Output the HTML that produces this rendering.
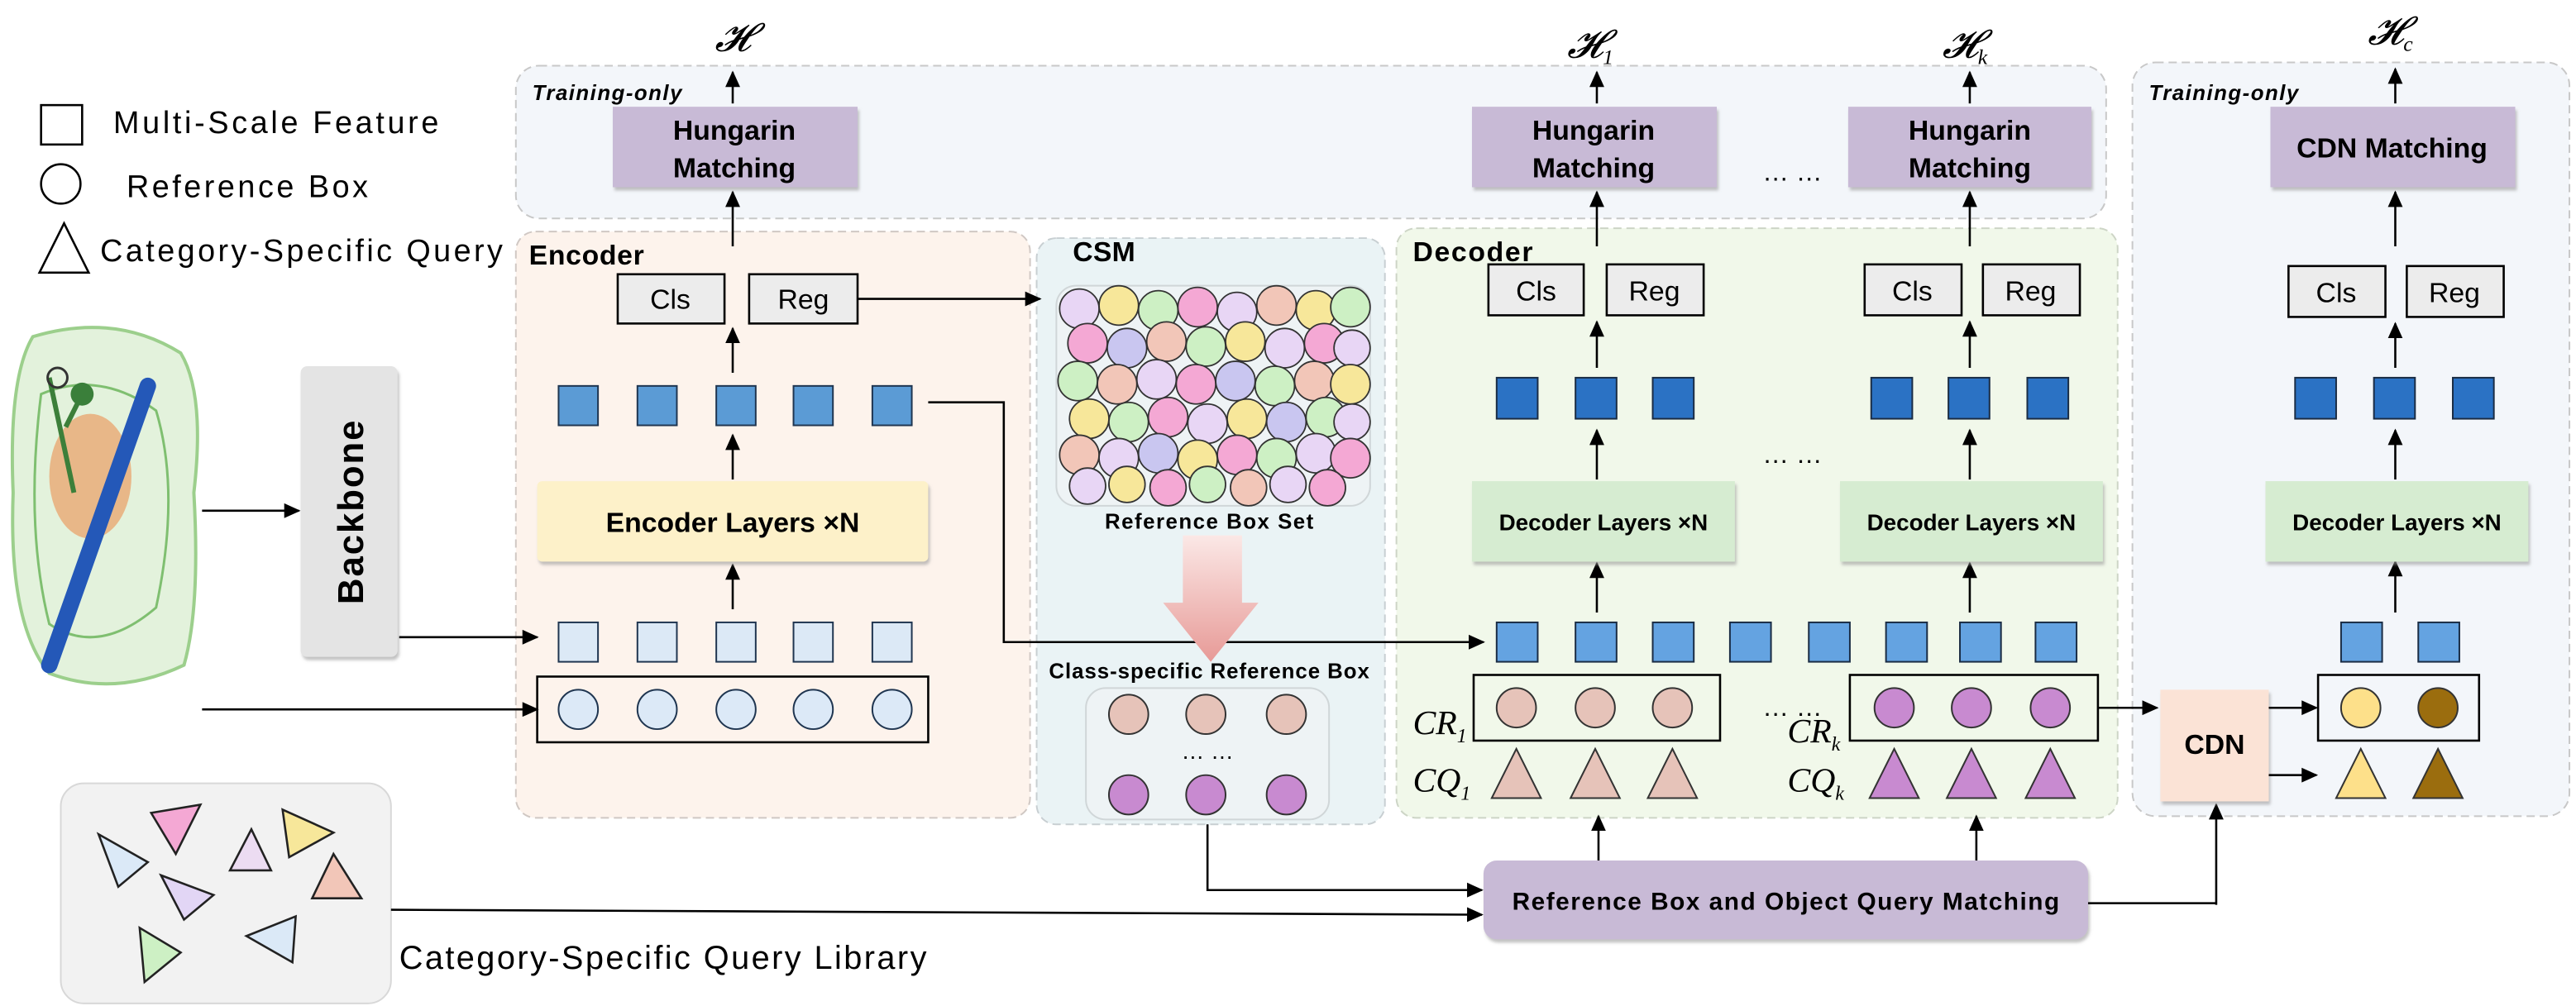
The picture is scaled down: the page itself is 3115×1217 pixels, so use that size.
<!DOCTYPE html>
<html><head><meta charset="utf-8"><style>
html,body{margin:0;padding:0;background:#fff;}
svg{display:block;}
text{font-family:"Liberation Sans",sans-serif;}
text.serif,.serif text{font-family:"Liberation Serif",serif;}
.b{font-weight:bold;}
</style></head><body>
<svg width="3115" height="1217" viewBox="0 0 1568 612.6" preserveAspectRatio="none" xmlns="http://www.w3.org/2000/svg">
<defs>
<marker id="ah" markerWidth="10" markerHeight="10" refX="9" refY="5" orient="auto" markerUnits="userSpaceOnUse"><path d="M0,0.5 L10,5 L0,9.5 z" fill="#000"/></marker>
<linearGradient id="pg" x1="0" y1="0" x2="0" y2="1"><stop offset="0" stop-color="#fbe8e6"/><stop offset="1" stop-color="#e79a97"/></linearGradient>
<filter id="sh" x="-10%" y="-10%" width="130%" height="140%"><feDropShadow dx="1" dy="2" stdDeviation="1" flood-color="#999" flood-opacity="0.6"/></filter>
</defs>

<rect x="314" y="40" width="968" height="93" rx="14" fill="#f3f6fa" stroke="#c8c8c8" stroke-dasharray="5,3"/>
<rect x="1298" y="38" width="266" height="459" rx="14" fill="#f3f6fa" stroke="#c8c8c8" stroke-dasharray="5,3"/>
<rect x="314" y="141" width="313" height="357" rx="12" fill="#fdf3ec" stroke="#d0c8c4" stroke-dasharray="5,3"/>
<rect x="631" y="145" width="212" height="357" rx="12" fill="#eaf3f5" stroke="#c8cfd2" stroke-dasharray="5,3"/>
<rect x="850" y="139" width="439" height="359" rx="12" fill="#f1f8ea" stroke="#cdd5c6" stroke-dasharray="5,3"/>
<text x="324" y="61" font-size="13" font-style="italic" class="b" textLength="91">Training-only</text>
<text x="1308" y="61" font-size="13" font-style="italic" class="b" textLength="91">Training-only</text>
<text x="322" y="161" font-size="17" class="b" textLength="70">Encoder</text>
<text x="653" y="159" font-size="17" class="b" textLength="38">CSM</text>
<text x="860" y="159" font-size="17" class="b" textLength="73">Decoder</text>

<rect x="25" y="64" width="25" height="24" fill="#fff" stroke="#000" stroke-width="1.3"/>
<text x="69" y="81" font-size="19" textLength="198">Multi-Scale Feature</text>
<circle cx="37" cy="112" r="12" fill="#fff" stroke="#000" stroke-width="1.3"/>
<text x="77" y="120" font-size="19" textLength="147">Reference Box</text>
<path d="M24,166 L39,136 L54,166 z" fill="#fff" stroke="#000" stroke-width="1.3"/>
<text x="61" y="159" font-size="19" textLength="245">Category-Specific Query</text>

<path d="M20,205 Q70,190 110,215 Q125,240 118,300 Q122,370 112,405 Q70,425 30,410 Q5,380 8,300 Q5,230 20,205 z" fill="#e3f2dc" stroke="#9ccf8c" stroke-width="2"/>
<path d="M25,240 Q60,225 95,250 Q110,300 95,370 Q60,400 30,380 Q15,320 25,240 z" fill="none" stroke="#7fbf70" stroke-width="1.5"/>
<ellipse cx="55" cy="290" rx="25" ry="38" fill="#e8a873" opacity="0.8"/>
<path d="M30,230 L45,300 M50,240 L40,260" stroke="#3c7f3a" stroke-width="3"/>
<line x1="90" y1="235" x2="30" y2="405" stroke="#2458b8" stroke-width="10" stroke-linecap="round"/>
<circle cx="35" cy="230" r="6" fill="none" stroke="#333" stroke-width="1.5"/>
<circle cx="50" cy="240" r="7" fill="#3a7f3a"/>

<rect x="183" y="223" width="59" height="177" rx="4" fill="#e4e4e4" filter="url(#sh)"/>
<text x="0" y="0" font-size="22" class="b" text-anchor="middle" transform="translate(221,312) rotate(-90)" textLength="112">Backbone</text>
<line x1="123" y1="311" x2="182" y2="311" stroke="#000" stroke-width="1.3" marker-end="url(#ah)"/>
<line x1="243" y1="388" x2="327" y2="388" stroke="#000" stroke-width="1.3" marker-end="url(#ah)"/>
<line x1="123" y1="432" x2="327" y2="432" stroke="#000" stroke-width="1.3" marker-end="url(#ah)"/>

<rect x="37" y="477" width="201" height="134" rx="14" fill="#f2f2f2" stroke="#d8d8d8"/>
<g stroke="#222" stroke-width="1.3">
<path d="M60,508 L90,525 L72,540 z" fill="#dbe9f7"/>
<path d="M92,495 L122,490 L107,520 z" fill="#f4a8d4"/>
<path d="M153,505 L165,530 L140,530 z" fill="#ecdcf2"/>
<path d="M172,493 L203,507 L176,522 z" fill="#f7e79a"/>
<path d="M203,520 L220,547 L190,547 z" fill="#f2c6b8"/>
<path d="M98,533 L130,545 L112,560 z" fill="#e2d6f5"/>
<path d="M150,570 L180,558 L178,586 z" fill="#dbe9f7"/>
<path d="M85,565 L110,580 L88,598 z" fill="#cdf0c4"/>
</g>
<text x="243" y="590" font-size="20" textLength="321">Category-Specific Query Library</text>
<line x1="238" y1="554" x2="902" y2="557" stroke="#000" stroke-width="1.3" marker-end="url(#ah)"/>

<g filter="url(#sh)">
<rect x="373" y="65" width="149" height="49" fill="#c8bad6"/>
<rect x="896" y="65" width="149" height="49" fill="#c8bad6"/>
<rect x="1125" y="65" width="148" height="49" fill="#c8bad6"/>
<rect x="1382" y="65" width="149" height="49" fill="#c8bad6"/>
</g>
<g font-size="17" class="b" text-anchor="middle">
<text x="447" y="85">Hungarin</text><text x="447" y="108">Matching</text>
<text x="970" y="85">Hungarin</text><text x="970" y="108">Matching</text>
<text x="1199" y="85">Hungarin</text><text x="1199" y="108">Matching</text>
<text x="1456" y="96">CDN Matching</text>
</g>
<text x="1091" y="110" font-size="16" text-anchor="middle">… …</text>

<g class="serif" font-style="italic" font-size="24" text-anchor="middle">
<text x="446" y="31">𝓗</text>
<text x="968" y="35">𝓗<tspan font-size="13" dy="4">1</tspan></text>
<text x="1196" y="35">𝓗<tspan font-size="13" dy="4">k</tspan></text>
<text x="1455" y="27">𝓗<tspan font-size="13" dy="4">c</tspan></text>
</g>

<g stroke="#000" stroke-width="1.3" marker-end="url(#ah)">
<line x1="446" y1="63" x2="446" y2="44"/>
<line x1="972" y1="63" x2="972" y2="44"/>
<line x1="1199" y1="63" x2="1199" y2="44"/>
<line x1="1458" y1="63" x2="1458" y2="42"/>
<line x1="446" y1="150" x2="446" y2="117"/>
<line x1="972" y1="150" x2="972" y2="117"/>
<line x1="1199" y1="150" x2="1199" y2="117"/>
<line x1="1458" y1="150" x2="1458" y2="117"/>
<line x1="446" y1="227" x2="446" y2="200"/>
<line x1="972" y1="224" x2="972" y2="196"/>
<line x1="1199" y1="224" x2="1199" y2="196"/>
<line x1="1458" y1="224" x2="1458" y2="197"/>
<line x1="446" y1="292" x2="446" y2="265"/>
<line x1="972" y1="292" x2="972" y2="262"/>
<line x1="1199" y1="292" x2="1199" y2="262"/>
<line x1="1458" y1="292" x2="1458" y2="262"/>
<line x1="446" y1="371" x2="446" y2="344"/>
<line x1="972" y1="373" x2="972" y2="343"/>
<line x1="1199" y1="373" x2="1199" y2="343"/>
<line x1="1458" y1="373" x2="1458" y2="342"/>
<line x1="973" y1="524" x2="973" y2="497"/>
<line x1="1203" y1="524" x2="1203" y2="497"/>
<line x1="1349" y1="551" x2="1349" y2="490"/>
</g>

<g fill="#ececec" stroke="#000" stroke-width="1.3">
<rect x="376" y="167" width="65" height="30"/><rect x="456" y="167" width="66" height="30"/>
<rect x="906" y="161" width="58" height="31"/><rect x="978" y="161" width="59" height="31"/>
<rect x="1135" y="161" width="59" height="31"/><rect x="1207" y="161" width="59" height="31"/>
<rect x="1393" y="162" width="59" height="31"/><rect x="1465" y="162" width="59" height="31"/>
</g>
<g font-size="17" text-anchor="middle">
<text x="408" y="188">Cls</text><text x="489" y="188">Reg</text>
<text x="935" y="183">Cls</text><text x="1007" y="183">Reg</text>
<text x="1164" y="183">Cls</text><text x="1236" y="183">Reg</text>
<text x="1422" y="184">Cls</text><text x="1494" y="184">Reg</text>
</g>
<line x1="522" y1="182" x2="633" y2="182" stroke="#000" stroke-width="1.3" marker-end="url(#ah)"/>

<g fill="#5b9bd5" stroke="#1f3550" stroke-width="1">
<rect x="340" y="235" width="24" height="24"/><rect x="388" y="235" width="24" height="24"/><rect x="436" y="235" width="24" height="24"/><rect x="483" y="235" width="24" height="24"/><rect x="531" y="235" width="24" height="24"/>
</g>
<g fill="#dce9f6" stroke="#1f3550" stroke-width="1">
<rect x="340" y="379" width="24" height="24"/><rect x="388" y="379" width="24" height="24"/><rect x="436" y="379" width="24" height="24"/><rect x="483" y="379" width="24" height="24"/><rect x="531" y="379" width="24" height="24"/>
</g>
<rect x="327" y="293" width="238" height="49" rx="3" fill="#fdf1c9" filter="url(#sh)"/>
<text x="446" y="324" font-size="17" class="b" text-anchor="middle">Encoder Layers ×N</text>
<rect x="327" y="412" width="238" height="40" fill="none" stroke="#000" stroke-width="1.3"/>
<g fill="#dce9f7" stroke="#1f3550" stroke-width="1">
<circle cx="352" cy="432" r="12"/><circle cx="400" cy="432" r="12"/><circle cx="448" cy="432" r="12"/><circle cx="495" cy="432" r="12"/><circle cx="543" cy="432" r="12"/>
</g>
<polyline points="565,245 611,245 611,391 903,391" fill="none" stroke="#000" stroke-width="1.3" marker-end="url(#ah)"/>

<rect x="643" y="174" width="191" height="134" rx="12" fill="#eef3f5" stroke="#d0d6d8"/>
<g stroke="#333" stroke-width="0.9">
<circle cx="657" cy="188" r="12" fill="#e8d6f5"/><circle cx="681" cy="186" r="12" fill="#f7e79a"/><circle cx="705" cy="189" r="12" fill="#cdf0c4"/><circle cx="729" cy="187" r="12" fill="#f4a8d4"/><circle cx="753" cy="190" r="12" fill="#e8d6f5"/><circle cx="777" cy="186" r="12" fill="#f2c6b8"/><circle cx="801" cy="189" r="12" fill="#f7e79a"/><circle cx="822" cy="187" r="12" fill="#cdf0c4"/>
<circle cx="662" cy="209" r="12" fill="#f4a8d4"/><circle cx="686" cy="212" r="12" fill="#c9c6f0"/><circle cx="710" cy="208" r="12" fill="#f2c6b8"/><circle cx="734" cy="211" r="12" fill="#cdf0c4"/><circle cx="758" cy="208" r="12" fill="#f7e79a"/><circle cx="782" cy="212" r="12" fill="#e8d6f5"/><circle cx="806" cy="209" r="12" fill="#f4a8d4"/><circle cx="823" cy="212" r="11" fill="#e8d6f5"/>
<circle cx="656" cy="232" r="12" fill="#cdf0c4"/><circle cx="680" cy="234" r="12" fill="#f2c6b8"/><circle cx="704" cy="231" r="12" fill="#e8d6f5"/><circle cx="728" cy="234" r="12" fill="#f4a8d4"/><circle cx="752" cy="232" r="12" fill="#c9c6f0"/><circle cx="776" cy="235" r="12" fill="#cdf0c4"/><circle cx="800" cy="232" r="12" fill="#f2c6b8"/><circle cx="822" cy="234" r="12" fill="#f7e79a"/>
<circle cx="663" cy="255" r="12" fill="#f7e79a"/><circle cx="687" cy="257" r="12" fill="#cdf0c4"/><circle cx="711" cy="254" r="12" fill="#f4a8d4"/><circle cx="735" cy="258" r="12" fill="#e8d6f5"/><circle cx="759" cy="255" r="12" fill="#f7e79a"/><circle cx="783" cy="257" r="12" fill="#c9c6f0"/><circle cx="807" cy="254" r="12" fill="#cdf0c4"/><circle cx="823" cy="257" r="11" fill="#e8d6f5"/>
<circle cx="657" cy="277" r="12" fill="#f2c6b8"/><circle cx="681" cy="279" r="12" fill="#e8d6f5"/><circle cx="705" cy="276" r="12" fill="#c9c6f0"/><circle cx="729" cy="280" r="12" fill="#f7e79a"/><circle cx="753" cy="277" r="12" fill="#f4a8d4"/><circle cx="777" cy="279" r="12" fill="#cdf0c4"/><circle cx="801" cy="276" r="12" fill="#e8d6f5"/><circle cx="822" cy="279" r="12" fill="#f4a8d4"/>
<circle cx="662" cy="296" r="11" fill="#e8d6f5"/><circle cx="686" cy="295" r="11" fill="#f7e79a"/><circle cx="711" cy="297" r="11" fill="#f4a8d4"/><circle cx="735" cy="295" r="11" fill="#cdf0c4"/><circle cx="760" cy="297" r="11" fill="#f2c6b8"/><circle cx="784" cy="295" r="11" fill="#e8d6f5"/><circle cx="808" cy="297" r="11" fill="#f4a8d4"/>
</g>
<text x="736" y="322" font-size="13" class="b" text-anchor="middle" textLength="127">Reference Box Set</text>
<path d="M720,326 L756,326 L756,367 L766,367 L737,403 L708,367 L720,367 z" fill="url(#pg)"/>
<text x="736" y="413" font-size="13" class="b" text-anchor="middle" textLength="195">Class-specific Reference Box</text>
<rect x="661" y="419" width="148" height="80" rx="12" fill="#eef3f5" stroke="#d0d6d8"/>
<g stroke="#333" stroke-width="1">
<circle cx="687" cy="435" r="12" fill="#e6c3b9"/><circle cx="734" cy="435" r="12" fill="#e6c3b9"/><circle cx="783" cy="435" r="12" fill="#e6c3b9"/>
<circle cx="687" cy="484" r="12" fill="#c88ad0"/><circle cx="734" cy="484" r="12" fill="#c88ad0"/><circle cx="783" cy="484" r="12" fill="#c88ad0"/>
</g>
<text x="735" y="462" font-size="14" text-anchor="middle">… …</text>
<polyline points="735,502 735,542 902,542" fill="none" stroke="#000" stroke-width="1.3" marker-end="url(#ah)"/>

<g fill="#2b72c4" stroke="#1a2c44" stroke-width="1">
<rect x="911" y="230" width="25" height="25"/><rect x="959" y="230" width="25" height="25"/><rect x="1006" y="230" width="25" height="25"/>
<rect x="1139" y="230" width="25" height="25"/><rect x="1186" y="230" width="25" height="25"/><rect x="1234" y="230" width="25" height="25"/>
<rect x="1397" y="230" width="25" height="25"/><rect x="1445" y="230" width="25" height="25"/><rect x="1493" y="230" width="25" height="25"/>
</g>
<text x="1091" y="282" font-size="16" text-anchor="middle">… …</text>
<g filter="url(#sh)" fill="#d6ecd1">
<rect x="896" y="293" width="160" height="49"/><rect x="1120" y="293" width="160" height="49"/><rect x="1379" y="293" width="160" height="49"/>
</g>
<g font-size="14" class="b" text-anchor="middle">
<text x="976" y="323">Decoder Layers ×N</text><text x="1200" y="323">Decoder Layers ×N</text><text x="1459" y="323">Decoder Layers ×N</text>
</g>
<g fill="#64a3e1" stroke="#1a2c44" stroke-width="1">
<rect x="911" y="379" width="25" height="24"/><rect x="959" y="379" width="25" height="24"/><rect x="1006" y="379" width="25" height="24"/><rect x="1053" y="379" width="25" height="24"/><rect x="1101" y="379" width="25" height="24"/><rect x="1148" y="379" width="25" height="24"/><rect x="1193" y="379" width="25" height="24"/><rect x="1239" y="379" width="25" height="24"/>
<rect x="1425" y="379" width="25" height="24"/><rect x="1472" y="379" width="25" height="24"/>
</g>
<g fill="none" stroke="#000" stroke-width="1.3">
<rect x="897" y="411" width="150" height="40"/><rect x="1126" y="411" width="151" height="40"/><rect x="1411" y="411" width="98" height="40"/>
</g>
<g stroke="#333" stroke-width="1">
<circle cx="923" cy="431" r="12" fill="#e6c3b9"/><circle cx="971" cy="431" r="12" fill="#e6c3b9"/><circle cx="1018" cy="431" r="12" fill="#e6c3b9"/>
<circle cx="1153" cy="431" r="12" fill="#c88ad0"/><circle cx="1200" cy="431" r="12" fill="#c88ad0"/><circle cx="1248" cy="431" r="12" fill="#c88ad0"/>
<circle cx="1437" cy="431" r="12" fill="#fde08a"/><circle cx="1484" cy="431" r="12" fill="#9b6d0e"/>
<path d="M908,486 L923,456 L938,486 z" fill="#e6c3b9"/><path d="M956,486 L971,456 L986,486 z" fill="#e6c3b9"/><path d="M1003,486 L1018,456 L1033,486 z" fill="#e6c3b9"/>
<path d="M1138,486 L1153,456 L1168,486 z" fill="#c88ad0"/><path d="M1185,486 L1200,456 L1215,486 z" fill="#c88ad0"/><path d="M1233,486 L1248,456 L1263,486 z" fill="#c88ad0"/>
<path d="M1422,486 L1437,456 L1452,486 z" fill="#fde08a"/><path d="M1469,486 L1484,456 L1499,486 z" fill="#9b6d0e"/>
</g>
<text x="1091" y="436" font-size="16" text-anchor="middle">… …</text>
<g class="serif" font-style="italic" font-size="21">
<text x="860" y="447">CR<tspan font-size="12" dy="5">1</tspan></text>
<text x="860" y="482">CQ<tspan font-size="12" dy="5">1</tspan></text>
<text x="1088" y="452">CR<tspan font-size="12" dy="5">k</tspan></text>
<text x="1088" y="482">CQ<tspan font-size="12" dy="5">k</tspan></text>
</g>
<line x1="1277" y1="431" x2="1313" y2="431" stroke="#000" stroke-width="1.3" marker-end="url(#ah)"/>
<rect x="1315" y="420" width="66" height="68" fill="#fbe3d6" filter="url(#sh)"/>
<text x="1348" y="459" font-size="17" class="b" text-anchor="middle">CDN</text>
<line x1="1381" y1="431" x2="1410" y2="431" stroke="#000" stroke-width="1.3" marker-end="url(#ah)"/>
<line x1="1381" y1="472" x2="1410" y2="472" stroke="#000" stroke-width="1.3" marker-end="url(#ah)"/>

<rect x="903" y="524" width="368" height="48" rx="8" fill="#c8bad6" filter="url(#sh)"/>
<text x="1087" y="554" font-size="15" class="b" text-anchor="middle" textLength="333">Reference Box and Object Query Matching</text>
<polyline points="1271,550 1349,550" fill="none" stroke="#000" stroke-width="1.3"/>
</svg>
</body></html>
